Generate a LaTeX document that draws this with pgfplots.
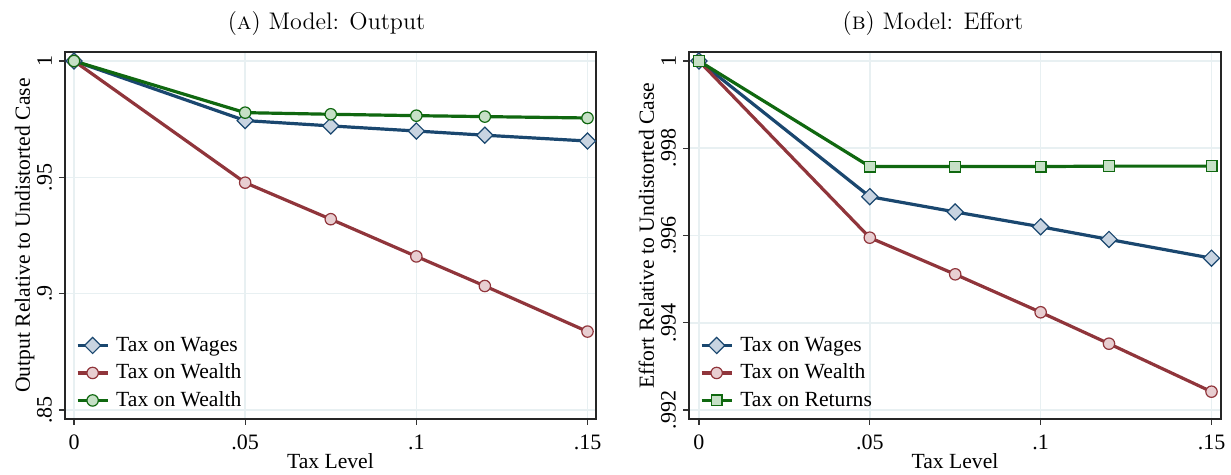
\documentclass[border=0pt]{standalone}
\usepackage{fontspec}
\usepackage{pgfplots}
\pgfplotsset{compat=1.18}
\newfontfamily\tnr{Liberation Serif}
\definecolor{snavy}{RGB}{26,71,111}
\definecolor{smaroon}{RGB}{144,53,59}
\definecolor{sgreen}{RGB}{16,104,16}
\definecolor{fnavy}{RGB}{200,212,225}
\definecolor{fmaroon}{RGB}{232,206,209}
\definecolor{fgreen}{RGB}{198,224,198}
\definecolor{gridc}{RGB}{232,240,242}
\pgfplotsset{
  stata/.style={
    scale only axis,
    width=265.5pt, height=183.5pt,
    font=\tnr\fontsize{11}{13}\selectfont,
    axis line style={black!85, line width=0.7pt},
    tick align=outside, tick pos=left,
    major tick length=3pt,
    tick style={black!80, line width=0.6pt},
    xmajorgrids, ymajorgrids,
    grid style={gridc, line width=0.8pt},
    xtick={0,0.05,0.1,0.15}, xticklabels={0,.05,.1,.15},
    xticklabel style={anchor=north, yshift=-1.5pt},
    yticklabel style={rotate=90, anchor=south},
    every axis x label/.style={at={(axis description cs:0.5,0)}, anchor=base, yshift=-25pt, font=\tnr\fontsize{10.8}{13}\selectfont},
    xlabel={Tax Level},
    legend style={at={(axis description cs:0.02,0.012)}, anchor=south west, draw=none, fill=none,
      inner sep=0pt, row sep=0pt, column sep=2pt, font=\tnr\fontsize{10.8}{13}\selectfont,
      nodes={inner sep=1.5pt, text height=8.2pt, text depth=2.55pt}},
    legend cell align=left,
    legend image code/.code={\draw[mark repeat=2,mark phase=2,##1] plot coordinates {(0pt,0pt) (7.5pt,0pt) (15pt,0pt)};},
  },
  ylab/.style={every axis y label/.style={at={(axis description cs:-0.066,0.5)}, rotate=90, anchor=base, font=\tnr\fontsize{10.8}{13}\selectfont}},
  ttl/.style={every axis title/.style={at={(axis description cs:0.5,1)}, anchor=base, yshift=11pt, xshift=#1, font=\fontsize{12}{14}\selectfont}},
  wages/.style={snavy, line width=1.6pt, mark=square*, mark size=2.85pt, mark options={rotate=45, fill=fnavy, draw=snavy, line width=0.6pt}},
  wealth/.style={smaroon, line width=1.6pt, mark=*, mark size=2.85pt, mark options={fill=fmaroon, draw=smaroon, line width=0.6pt}},
  greenc/.style={sgreen, line width=1.6pt, mark=*, mark size=2.85pt, mark options={fill=fgreen, draw=sgreen, line width=0.6pt}},
  greens/.style={sgreen, line width=1.6pt, mark=square*, mark size=2.7pt, mark options={fill=fgreen, draw=sgreen, line width=0.6pt}},
}
\begin{document}
\begin{tikzpicture}
\begin{axis}[stata, at={(0pt,0pt)}, anchor=south west, ylab, ttl=-2pt,
  title={(\textsc{a}) Model: Output},
  xmin=-0.00263, xmax=0.15248, ymin=0.84613, ymax=1.00387,
  ytick={0.85,0.9,0.95,1}, yticklabels={.85,.9,.95,1},
  ylabel={Output Relative to Undistorted Case}]
\addplot[wages] coordinates {(0,1) (0.05,0.9744) (0.075,0.9721) (0.1,0.9699) (0.12,0.9681) (0.15,0.9656)};
\addlegendentry{Tax on Wages}
\addplot[wealth] coordinates {(0,1) (0.05,0.9477) (0.075,0.9320) (0.1,0.9160) (0.12,0.9033) (0.15,0.8837)};
\addlegendentry{Tax on Wealth}
\addplot[greenc] coordinates {(0,1) (0.05,0.9778) (0.075,0.9771) (0.1,0.9765) (0.12,0.9761) (0.15,0.9755)};
\addlegendentry{Tax on Wealth}
\end{axis}
\begin{axis}[stata, at={(312pt,0pt)}, anchor=south west, width=266pt, ylab, ttl=-11pt,
  title={(\textsc{b}) Model: Effort},
  xmin=-0.0029, xmax=0.15278, ymin=0.991794, ymax=1.000206,
  ytick={0.992,0.994,0.996,0.998,1}, yticklabels={.992,.994,.996,.998,1},
  ylabel={Effort Relative to Undistorted Case}]
\addplot[wages] coordinates {(0,1) (0.05,0.99689) (0.075,0.99654) (0.1,0.99620) (0.12,0.99591) (0.15,0.99548)};
\addlegendentry{Tax on Wages}
\addplot[wealth] coordinates {(0,1) (0.05,0.99595) (0.075,0.99511) (0.1,0.99424) (0.12,0.99352) (0.15,0.99242)};
\addlegendentry{Tax on Wealth}
\addplot[greens] coordinates {(0,1) (0.05,0.99758) (0.075,0.99758) (0.1,0.99758) (0.12,0.99759) (0.15,0.99759)};
\addlegendentry{Tax on Returns}
\end{axis}
\pgfresetboundingbox
\path[use as bounding box] (-32.5pt,-28pt) rectangle (583pt,209.5pt);
\end{tikzpicture}
\end{document}
